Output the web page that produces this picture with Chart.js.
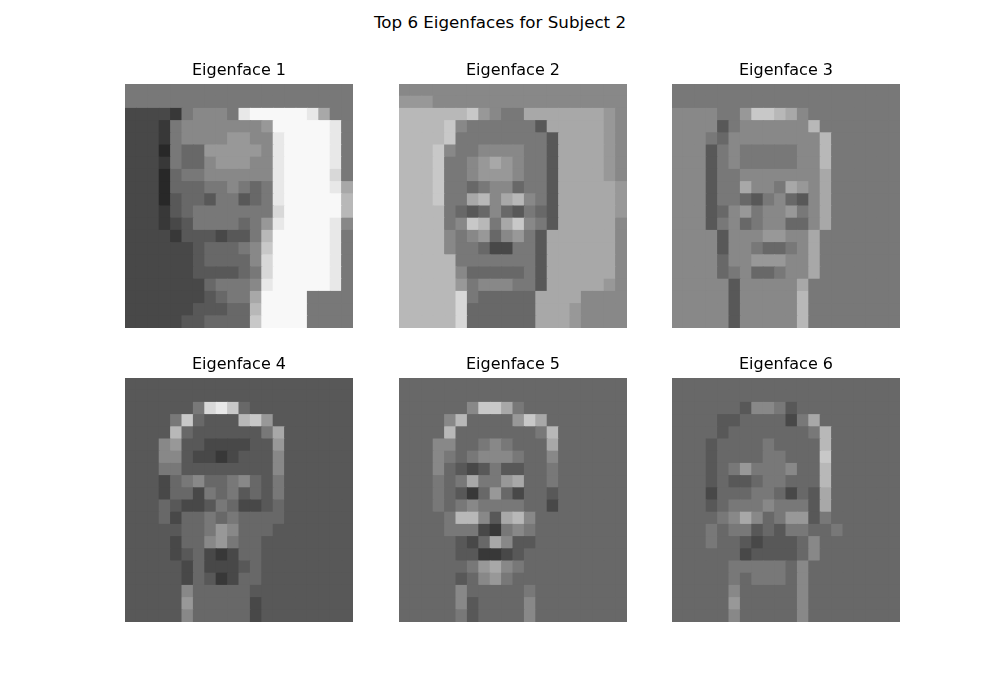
<!DOCTYPE html>
<html>
<head>
<meta charset="utf-8">
<script src="https://cdn.jsdelivr.net/npm/chart.js@4/dist/chart.umd.min.js"></script>
<style>
  body { margin: 0; background: #fff; }
  #fig { position: relative; width: 1000px; height: 700px; background: #fff; font-family: 'DejaVu Sans', sans-serif; }
  #suptitle { position: absolute; left: 0; top: 13px; width: 1000px; text-align: center; font-size: 16.7px; line-height: 19px; color: #000; }
  canvas { position: absolute; }
</style>
</head>
<body>
<div id="fig">
  <div id="suptitle">Top 6 Eigenfaces for Subject 2</div>
  <canvas id="f1" width="228" height="267" style="left:125px;top:61px"></canvas>
  <canvas id="f2" width="228" height="267" style="left:399px;top:61px"></canvas>
  <canvas id="f3" width="228" height="267" style="left:672px;top:61px"></canvas>
  <canvas id="f4" width="228" height="267" style="left:125px;top:355px"></canvas>
  <canvas id="f5" width="228" height="267" style="left:399px;top:355px"></canvas>
  <canvas id="f6" width="228" height="267" style="left:672px;top:355px"></canvas>
</div>
<script>
// each string is one row of the image (top to bottom), one hex digit per cell = gray level
const face1 = [
  '77777777777777777777',
  '77777777777777777777',
  '4444378887efffffea77',
  '4443788888889fffffe7',
  '4443788889988effffe7',
  '4442766999998effffe7',
  '4443766899988effffe7',
  '4442677888888effffd7',
  '4442666778767effffea',
  '4442566577567efffffb',
  '4443567777777dfffffb',
  '4443457777679effffe8',
  '444435554557bfffffe7',
  '444444566678cfffffe7',
  '444444566668dfffffe7',
  '444444555567dfffffe7',
  '444444467778efffffe7',
  '44444445677affff7777',
  '44444455566bffff7777',
  '44444556666cffff7777'
];
const face2 = [
  '88888888888888888888',
  '99988888888888888888',
  'bbbbbbc9877aaaaaaa98',
  'bbbbc87777775aaaaa98',
  'bbbbc777777775aaaa98',
  'bbbc8778888775aaaa98',
  'bbbc7789a98775aaaa98',
  'bbbc7789998775aaaa98',
  'bbbc7767886775aaaaa9',
  'bbbc77ab8ab875aaaaa9',
  'bbbb7656865765aaaaa9',
  'bbbb78cb7ac875aaaaa8',
  'bbbb878968975aaaaaa8',
  'bbbb877644775aaaaaa8',
  'bbbbb77777775aaaaaa8',
  'bbbbb86666675aaaaaa8',
  'bbbbb97888775aaaaa98',
  'bbbbbd766666aaaa8888',
  'bbbbbd666666aaa98888',
  'bbbbbd666666aaa98888'
];
const face3 = [
  '77777777777777777777',
  '77777777777777777777',
  '8888779ccba877777777',
  '888857888888b7777777',
  '8887688888888b777777',
  '8885787777788b777777',
  '8885787777788b777777',
  '8885778888888a777777',
  '888577a887a98a777777',
  '8885776578658a777777',
  '8885689788978a777777',
  '8885786788668a777777',
  '888858889988a7777777',
  '888858876678a7777777',
  '888868899988a7777777',
  '888867866788a7777777',
  '88888588888a77777777',
  '88888588888b77777777',
  '88888588888b77777777',
  '88888588888b77777777'
];
const face4 = [
  '55555555555555555555',
  '55555555555555555555',
  '5555557dec6555555555',
  '55557c6555bc95555555',
  '5555b65555557a555555',
  '55589554444559555555',
  '55588544345558555555',
  '55577555555558555555',
  '55546786678657555555',
  '55546647675657555555',
  '55565445764456555555',
  '55564667676666555555',
  '55555667986665555555',
  '55554668976655555555',
  '55554564346655555555',
  '55555464445655555555',
  '55555465346655555555',
  '55555866666555555555',
  '55555966666455555555',
  '55555866666455555555'
];
const face5 = [
  '66666666666666666666',
  '66666666666666666666',
  '6666668cca7666666666',
  '66668b66669ca6666666',
  '6666b66666667b666666',
  '6668866787666a666666',
  '66687678887668666666',
  '66686545755667666666',
  '666767a779a667666666',
  '66676536964665666666',
  '66676787777664666666',
  '66667bb85ab866666666',
  '66667774378766666666',
  '66666546a85566666666',
  '66666553345666666666',
  '66666679a87666666666',
  '66666568976666666666',
  '66666866666766666666',
  '66666856666866666666',
  '66666756666866666666'
];
const face6 = [
  '66666666666666666666',
  '66666666666666666666',
  '66666658875666666666',
  '666655666647a6666666',
  '6666566666667b666666',
  '6665666676666b666666',
  '6665666677666c666666',
  '6665679777866b666666',
  '6665655677666b666666',
  '6664666776465a666666',
  '6665677787775a666666',
  '666678a8679957666666',
  '66676775657766766666',
  '66676654555686666666',
  '66666645555686666666',
  '66666777776866666666',
  '66666767776866666666',
  '66666866666866666666',
  '66666966666866666666',
  '66666866666866666666'
];
const faces = [face1, face2, face3, face4, face5, face6];
const titles = ['Eigenface 1', 'Eigenface 2', 'Eigenface 3', 'Eigenface 4', 'Eigenface 5', 'Eigenface 6'];
const colLabels = ['0','1','2','3','4','5','6','7','8','9','10','11','12','13','14','15','16','17','18','19'];

function shade(ch) {
  let v = parseInt(ch, 16) * 16 + 8;
  return `rgb(${v},${v},${v})`;
}

function buildFace(id, title, rows) {
  let datasets = [];
  // stacked bars grow upward, so the bottom row goes first
  for (let r = rows.length - 1; r >= 0; r--) {
    let cells = rows[r].split('');
    datasets.push({
      data: cells.map(() => 1),
      backgroundColor: cells.map(shade),
      borderWidth: 0,
      barPercentage: 1,
      categoryPercentage: 1,
      inflateAmount: 0.5
    });
  }

  const ctx = document.getElementById(id).getContext('2d');
  new Chart(ctx, {
    type: 'bar',
    data: { labels: colLabels, datasets: datasets },
    options: {
      responsive: false,
      animation: false,
      events: [],
      layout: { padding: 0 },
      plugins: {
        legend: { display: false },
        tooltip: { enabled: false },
        title: {
          display: true,
          text: title,
          color: '#000',
          font: { family: 'DejaVu Sans', size: 16, weight: 'normal' },
          padding: { top: 0, bottom: 3.8 }
        }
      },
      scales: {
        x: { display: false, stacked: true },
        y: { display: false, stacked: true, min: 0, max: rows.length }
      }
    }
  });
}

faces.forEach((rows, i) => buildFace('f' + (i + 1), titles[i], rows));
</script>
</body>
</html>
